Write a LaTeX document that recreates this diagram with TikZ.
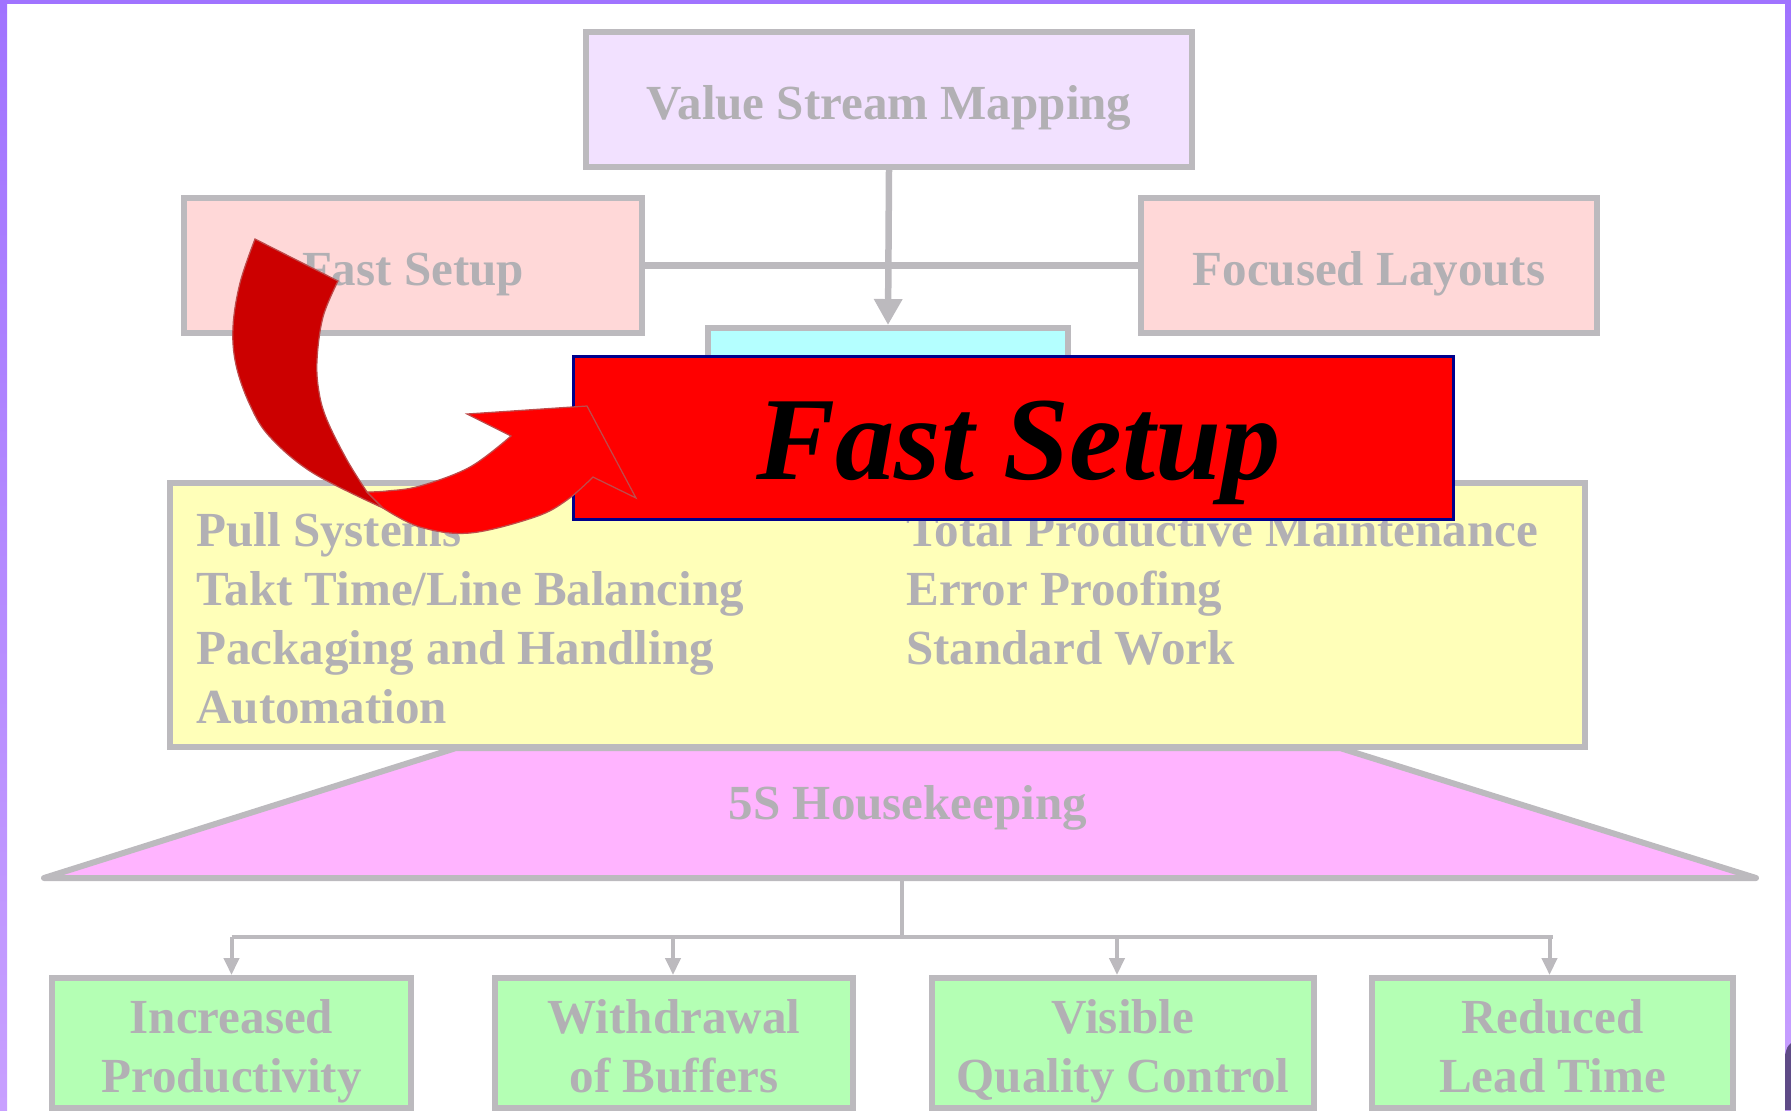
\documentclass[tikz,border=0pt]{standalone}
\usepackage{fontspec}
\setmainfont{Liberation Serif}
\usetikzlibrary{arrows.meta}

\definecolor{edgegray}{RGB}{188,186,190}
\definecolor{fadegray}{RGB}{178,176,180}
\definecolor{vsmfill}{RGB}{242,225,255}
\definecolor{pinkfill}{RGB}{255,216,216}
\definecolor{cyanfill}{RGB}{180,255,255}
\definecolor{yellowfill}{RGB}{255,255,185}
\definecolor{magentafill}{RGB}{255,180,255}
\definecolor{greenfill}{RGB}{180,255,180}
\definecolor{framepurple}{RGB}{160,115,255}
\definecolor{framelight}{RGB}{200,160,255}
\definecolor{hilitered}{RGB}{255,0,0}
\definecolor{hiliteedge}{RGB}{0,0,140}
\definecolor{ribbondark}{RGB}{204,0,0}
\definecolor{ribbonedge}{RGB}{190,75,75}
\definecolor{blobpurple}{RGB}{95,75,135}

\newcommand{\fadefont}{\fontsize{27.9}{33.6}\selectfont\bfseries}

\begin{document}
\begin{tikzpicture}[x=0.02cm, y=-0.02cm,
      box/.style={draw=edgegray, line width=0.12cm, inner sep=0pt, font=\fadefont, text=fadegray, text height=0.78cm, text depth=0pt},
      goal/.style={draw=edgegray, fill=greenfill, line width=0.12cm, inner sep=0pt, font=\fadefont, text=fadegray, align=center, minimum height=2.6cm, text height=1.98cm, text depth=0pt},
      item/.style={font=\fadefont, text=fadegray, inner sep=0pt, anchor=base west},
      link/.style={draw=edgegray, line width=0.13cm},
      thinlink/.style={draw=edgegray, line width=0.08cm},
      ribbon/.style={draw=ribbonedge, line width=0.025cm, line join=miter}]

      \useasboundingbox (0,0) rectangle (1791,1110);

      % Faded chart
      \node[box, fill=vsmfill, minimum width=12.12cm, minimum height=2.7cm] (vsm) at (889,99.5) {Value Stream Mapping};
      \node[box, fill=pinkfill, minimum width=9.16cm, minimum height=2.7cm] (fast) at (413,265.5) {Fast Setup};
      \node[box, fill=pinkfill, minimum width=9.12cm, minimum height=2.7cm] (focus) at (1369,265.5) {Focused Layouts};
      \node[box, fill=cyanfill, minimum width=7.2cm, minimum height=2.04cm] (cell) at (888,379) {};

      \draw[link] (fast.east) -- (focus.west);
      \draw[link, -{Triangle[length=0.52cm, width=0.54cm]}] (vsm.south) -- (cell.north);

      \filldraw[draw=edgegray, fill=magentafill, line width=0.12cm, line join=round]
        (456,748) -- (1340,748) -- (1756,878) -- (44,878) -- cycle;
      \node[box, draw=none] (house) at (908,800) {5S Housekeeping};

      \node[box, fill=yellowfill, minimum width=28.3cm, minimum height=5.28cm] (tools) at (877.5,615) {};
      \foreach \t [count=\i] in {Pull Systems, Takt Time/Line Balancing, Packaging and Handling, Automation}
        \node[item] (pl\i) at (196,{546+(\i-1)*59}) {\t};
      \foreach \t [count=\i] in {Total Productive Maintenance, Error Proofing, Standard Work}
        \node[item] (pr\i) at (906,{546+(\i-1)*59}) {\t};

      \node[goal, minimum width=7.18cm] (g1) at (231.5,1043) {Increased\\Productivity};
      \node[goal, minimum width=7.16cm] (g2) at (674,1043) {Withdrawal\\of Buffers};
      \node[goal, minimum width=7.64cm] (g3) at (1123,1043) {Visible\\Quality Control};
      \node[goal, minimum width=7.22cm] (g4) at (1552.5,1043) {Reduced\\Lead Time};

      % Results
      \coordinate (drop) at (902,878);
      \coordinate (bus) at (902,937);
      \draw[thinlink] (drop) -- (bus);
      \draw[thinlink] (g1.north |- bus) -- (g4.north |- bus);
      \foreach \g/\dx in {g1/0, g2/-1, g3/-6, g4/-3}
        \draw[thinlink, -{Triangle[length=0.34cm, width=0.3cm]}] ([xshift=\dx*0.02cm]\g.north |- bus) -- ([xshift=\dx*0.02cm]\g.north);

      % Highlight
      \node[draw=hiliteedge, fill=hilitered, line width=0.06cm, minimum width=17.62cm, minimum height=3.28cm, inner sep=0pt,
        font=\fontsize{67.5}{70}\selectfont\bfseries\itshape, text height=1.64cm, text depth=0pt] (hilite) at (1013.5,438) {\hspace*{0.2cm}Fast Setup};

      % Curved arrow
      \filldraw[ribbon, fill=ribbondark] (255,239) -- (338,281)
        -- plot[smooth, tension=0.6] coordinates {(338,281) (323,317) (317,360) (319,392) (327,420) (347,460) (367,492)}
        -- (383,508)
        -- plot[smooth, tension=0.6] coordinates {(383,508) (313,473) (270,437) (250,405) (236,365) (233,327) (240,283) (255,239)}
        -- cycle;
      \filldraw[ribbon, fill=hilitered] (367,492)
        -- plot[smooth, tension=0.6] coordinates {(367,492) (387,491) (420,486) (470,467) (511,436)}
        -- (467,414) -- (587,406) -- (636,498) -- (593,477)
        -- plot[smooth, tension=0.6] coordinates {(593,477) (567,500) (535,517) (470,533) (420,527) (383,508)}
        -- cycle;

      % Frame
      \fill[framepurple] (0,0) rectangle (1791,4);
      \shade[top color=framepurple, bottom color=framelight] (0,0) rectangle (7,1110);
      \shade[top color=framepurple, bottom color=framelight] (1785,0) rectangle (1791,1110);
      \fill[blobpurple] (1785,1055) .. controls (1787,1047) .. (1791,1043) -- (1791,1110) -- (1785,1110) -- cycle;
    \end{tikzpicture}
\end{document}
